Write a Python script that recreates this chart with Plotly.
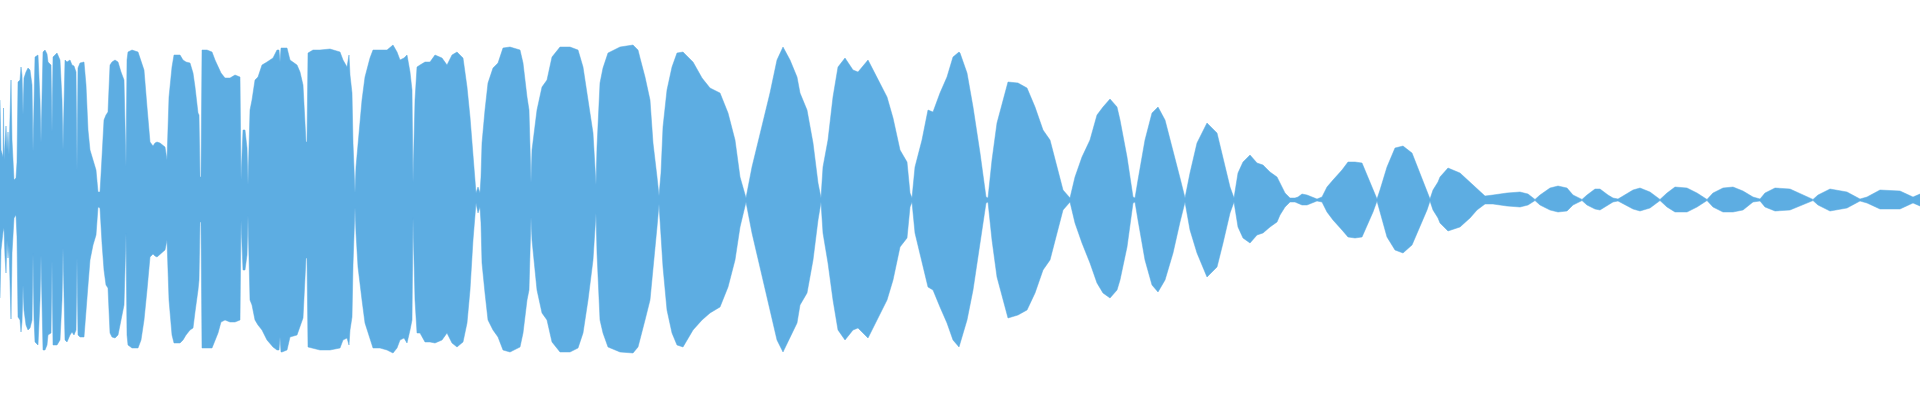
import plotly.graph_objects as go

# waveform overview: peak envelope per frame (amplitude in % of full scale)
frame = [
    0, 1, 3, 3.5, 4, 5, 6, 7, 8, 9, 11, 12, 14, 16, 17, 18, 20, 21, 22, 23, 24, 26, 28, 30, 32, 33, 34, 35, 38, 40,
    41, 43, 45, 47, 48, 51, 52, 53, 57, 60, 62, 63, 65, 67, 70, 72, 74, 76, 77, 78, 80, 84, 86, 88, 90, 93, 96, 98, 100, 101,
    102, 104, 106, 108, 110, 112, 115, 118, 121, 124, 126, 127, 128, 132, 138, 141, 144, 147, 149, 150, 153, 155, 157,
    160, 165, 167, 169, 172, 174, 180, 183, 186, 190, 193, 195, 198, 199, 200, 201, 202, 207, 212, 215,
    218, 221, 225, 230, 235, 240, 241, 243, 245, 247, 248, 250, 252, 255, 258, 262, 267, 273, 277, 279,
    280, 281, 282, 287, 290, 297, 300, 303, 306, 307, 308, 313, 320,
    330, 340, 343, 347, 349, 350, 352, 353, 355, 356, 358, 362, 365, 370, 373, 380, 387, 393, 397, 400,
    404, 407, 410, 412, 413, 415, 417, 420, 425, 430, 435, 442, 447, 452, 457, 463, 467, 470, 473, 476, 478, 480,
    481, 482, 485, 488, 493, 498, 503, 510, 520, 523, 527, 529, 531, 532, 537, 542, 547, 552, 560, 570,
    578, 583, 588, 593, 596, 597, 600, 603, 608, 620, 633, 638,
    640, 645, 650, 653, 657, 659, 661, 663, 667, 672, 677, 683, 693, 702, 710, 720, 728, 735, 740, 746,
    752, 757, 763, 770, 777, 783, 790, 797,
    800, 807, 813, 818, 821, 823, 828, 833, 838, 845, 853, 858, 868, 877, 887, 893, 900, 907, 910, 912,
    915, 922, 928, 933, 940, 947, 953, 959,
    960, 967, 973, 980, 986, 988, 992, 997, 1002, 1008, 1018, 1027, 1035, 1043, 1050, 1057, 1063, 1070, 1075, 1082,
    1090, 1097, 1103, 1110, 1117,
    1120, 1127, 1133, 1135, 1138, 1145, 1152, 1158, 1165, 1173, 1180, 1185, 1190, 1197, 1207, 1217, 1223, 1230, 1234, 1238,
    1243, 1250, 1257, 1263, 1270, 1277,
    1280, 1285, 1290, 1295, 1298, 1302, 1307, 1312, 1317, 1322, 1327, 1333, 1342, 1348, 1355, 1362, 1368, 1373, 1377, 1380,
    1387, 1395, 1403, 1412, 1420, 1427, 1430, 1433, 1438,
    1440, 1448, 1460, 1470, 1477, 1485, 1493, 1507, 1520, 1528, 1535, 1540, 1550, 1558, 1567, 1573, 1582, 1587, 1595,
    1600, 1608, 1613, 1618, 1625, 1633, 1640, 1650, 1660, 1667, 1675, 1687, 1697, 1707, 1713, 1723, 1733, 1743, 1753, 1760,
    1765, 1775, 1790, 1803, 1813, 1818, 1830, 1847, 1860, 1867, 1880, 1900, 1913, 1920,
]

peak_hi = [
    50, 25, 21.5, 46, 20, 30, 37, 25, 34, 22.5, 60, 30, 10, 11, 19, 59, 60, 66.5, 62.5, 42.5, 61, 64, 66, 65, 57.5, 24, 59, 71.5, 72.5, 50,
    28.5, 74, 75, 73, 69, 67.5, 33.5, 71.5, 73.5, 70, 50, 25, 70, 69, 70, 67.5, 67, 64, 14, 66, 68.5, 69, 57.5, 35, 25, 20, 15, 4, 4, 12.5,
    23.5, 40, 42.5, 44, 67.5, 69, 70, 69, 64, 60, 16.5, 70, 74, 75, 74, 70, 65, 46.5, 35, 29, 27, 28.5, 29,
    28.5, 26.5, 20, 51.5, 66.5, 72.5, 72.5, 70, 69, 68.5, 63.5, 56.5, 43.5, 42.5, 11.5, 11.5, 75, 75, 74, 70,
    66.5, 63.5, 61, 61, 62.5, 61.5, 10, 35, 35, 26, 7.5, 45, 50, 60, 61.5, 67.5, 69, 71, 75, 75,
    69, 76, 76, 76, 70, 67.5, 64, 57.5, 29, 29, 73.5, 75, 75,
    75.5, 74, 70, 66.5, 72.5, 62.5, 53.5, 28.5, 3.5, 16.5, 28.5, 50, 61.5, 71, 75, 75, 75, 77.5, 74, 70,
    71, 72.5, 64, 55, 8.5, 50, 66.5, 67.5, 69, 69, 72.5, 71, 67.5, 72.5, 74, 71, 56.5, 41.5, 20, 3.5, 6.5, 3.5,
    11.5, 28.5, 45, 58.5, 66, 68.5, 76, 76.5, 75, 68.5, 51.5, 45, 8.5, 25, 45, 56.5, 60, 71.5, 76.5, 76.5,
    75, 66.5, 50, 33.5, 7.5, 26.5, 58.5, 66, 73.5, 76.5, 77.5, 75,
    71, 61.5, 50, 28.5, 11.5, 2, 13.5, 36.5, 55, 66.5, 73.5, 74, 69, 61, 56, 53.5, 43.5, 30, 11.5, 1,
    16.5, 26.5, 38.5, 53.5, 70, 76.5, 70, 61.5,
    53.5, 45, 28.5, 8.5, 1, 16.5, 30, 51.5, 66.5, 71, 65, 64, 70, 61.5, 51.5, 41, 25, 19, 3.5, 1,
    16.5, 30, 45, 44, 53.5, 61.5, 71.5, 74,
    73.5, 63.5, 46.5, 23.5, 1.5, 1, 20, 38.5, 48.5, 59, 58.5, 56, 46.5, 35, 30, 16.5, 5, 1, 11.5, 21.5,
    30, 42.5, 46.5, 50.5, 46.5,
    40, 21.5, 1.5, 1, 10, 30, 43.5, 46.5, 40, 25, 11, 1, 13.5, 28.5, 38.5, 33.5, 21.5, 6.5, 1, 13.5,
    19, 22.5, 18.5, 17.5, 14, 11.5,
    8.5, 3.5, 1, 1, 1.5, 3, 2.5, 1.5, 0.5, 1.5, 6.5, 10, 15, 19, 19, 18.5, 11, 5, 0.5, 5,
    16.5, 26, 27, 23.5, 13.5, 5, 0.5, 5, 9,
    11.5, 16, 13.5, 9, 5.5, 2, 2.5, 3.5, 4, 3, 0.3, 2.5, 6, 7, 6, 2.5, 0.3, 2.5, 5.5,
    5.5, 2.5, 1, 0.5, 2.5, 5, 6, 4, 0.3, 3.5, 6.5, 6, 3.5, 0.3, 3.5, 6, 6.5, 4.5, 1.5, 0.5,
    3.5, 6, 5.5, 2.5, 0.3, 2.5, 5.5, 4, 0.5, 1.5, 5, 4.5, 1.5, 3,
]

peak_lo = [
    -49, -25, -16, -15, -14, -28.5, -36.5, -20, -29, -22.5, -59.5, -26.5, -9, -7.5, -18.5, -58.5, -60, -66, -61, -42.5,
    -55, -62.5, -65, -64, -60, -26.5, -59, -71, -72.5, -50,
    -27.5, -75, -75, -72.5, -67.5, -66.5, -30, -72.5, -72.5, -70, -50, -23.5, -70, -71, -67.5, -66, -67.5, -65, -28.5, -67.5,
    -68.5, -68.5, -57.5, -42.5, -30, -22.5, -17.5, -3.5, -4, -14,
    -21.5, -35, -42.5, -44, -66.5, -68.5, -69, -67.5, -60, -52.5, -16.5, -67.5, -72.5, -74, -74, -70, -60, -45, -35, -28.5,
    -27, -28, -28.5,
    -27.5, -25, -20, -50, -67.5, -71.5, -71.5, -70, -67.5, -65, -64, -56, -45, -40, -11, -11, -74, -74, -74, -70,
    -66.5, -61, -60, -61, -61, -60, -10, -35, -35, -27.5, -7.5, -50, -52.5, -60, -62.5, -65, -70, -73.5, -75, -75,
    -68.5, -76, -76, -75, -68.5, -67.5, -63.5, -59, -29, -29, -73.5, -74, -75,
    -75, -74, -70, -69, -72.5, -65, -58.5, -32.5, -3.5, -16.5, -33.5, -50, -61.5, -69, -74, -74, -75, -76.5, -74, -70,
    -69, -71.5, -65, -60, -8.5, -50, -66.5, -66.5, -71, -71, -71.5, -70, -66.5, -71.5, -73.5, -71, -61.5, -45, -20, -1.5,
    -6.5, -3.5,
    -11.5, -31.5, -46.5, -60, -65, -68.5, -75, -76, -73.5, -66.5, -50, -45, -8.5, -20, -45, -56.5, -60, -71, -76, -76,
    -74, -66.5, -50, -30, -6.5, -26.5, -60, -66.5, -73.5, -76, -76.5, -73.5,
    -70, -60, -50, -33.5, -13.5, -2, -15, -33.5, -55, -66.5, -72.5, -73.5, -65, -60, -56.5, -53.5, -43.5, -30, -13.5, -1,
    -16.5, -26.5, -40, -55, -70, -76, -68.5, -61.5,
    -52.5, -46.5, -30, -10, -1, -16.5, -31.5, -50, -65, -70, -65, -64, -69, -60, -50, -40, -23.5, -19, -3.5, -1,
    -16.5, -31.5, -43.5, -45, -53.5, -61.5, -70, -73.5,
    -72.5, -60, -45, -21.5, -1.5, -1, -20, -38.5, -48.5, -59, -57.5, -55, -46.5, -35, -30, -16.5, -5, -1, -11.5, -21.5,
    -31.5, -41.5, -46.5, -49, -45,
    -40, -23.5, -1.5, -1, -10, -30, -42.5, -46, -40, -26.5, -11, -1, -15, -26.5, -38.5, -33.5, -21.5, -6.5, -1, -13.5,
    -19, -21.5, -17.5, -16.5, -13.5, -11,
    -7.5, -3.5, -1, -1, -1.5, -2.5, -2.5, -1.5, -0.5, -1, -6, -10, -15, -18.5, -19, -18.5, -11.5, -6, -0.5, -5,
    -18.5, -25, -26.5, -22.5, -13.5, -5, -0.5, -5, -9,
    -11.5, -15.5, -13.5, -9, -5, -2, -2, -3, -3.5, -2.5, -0.3, -2.5, -5, -6, -5.5, -2.5, -0.3, -2.5, -4.5,
    -5, -2.5, -1, -0.5, -2.5, -4.5, -5.5, -4, -0.3, -3.5, -6, -6, -3.5, -0.3, -3.5, -6, -6, -5, -1, -0.5,
    -3.5, -5.5, -5, -2.5, -0.3, -2.5, -5.5, -4, -0.5, -1.5, -4.5, -4.5, -1.5, -3,
]

assert len(frame) == len(peak_hi) == len(peak_lo), (len(frame), len(peak_hi), len(peak_lo))

wave_color = "#5DADE2"

# closed outline: upper envelope left->right, lower envelope right->left
xs = frame + frame[::-1]
ys = peak_hi + peak_lo[::-1]

fig = go.Figure(go.Scatter(
    x=xs,
    y=ys,
    mode="lines",
    fill="toself",
    fillcolor=wave_color,
    line=dict(color=wave_color, width=0.5),
    hoverinfo="skip",
))

fig.update_layout(
    width=1920,
    height=400,
    autosize=False,
    margin=dict(l=0, r=0, t=0, b=0, pad=0),
    paper_bgcolor="white",
    plot_bgcolor="white",
    showlegend=False,
    xaxis=dict(range=[0, 1920], visible=False, fixedrange=True),
    yaxis=dict(range=[-100, 100], visible=False, fixedrange=True),
)

# drop the default page margin so the 1920x400 plot sits flush in the window
fix_page = (
    "document.body.style.margin='0';"
    "document.body.style.overflow='hidden';"
)
fig.write_html(
    "out.html",
    config={"displayModeBar": False, "responsive": False},
    post_script=fix_page,
)
